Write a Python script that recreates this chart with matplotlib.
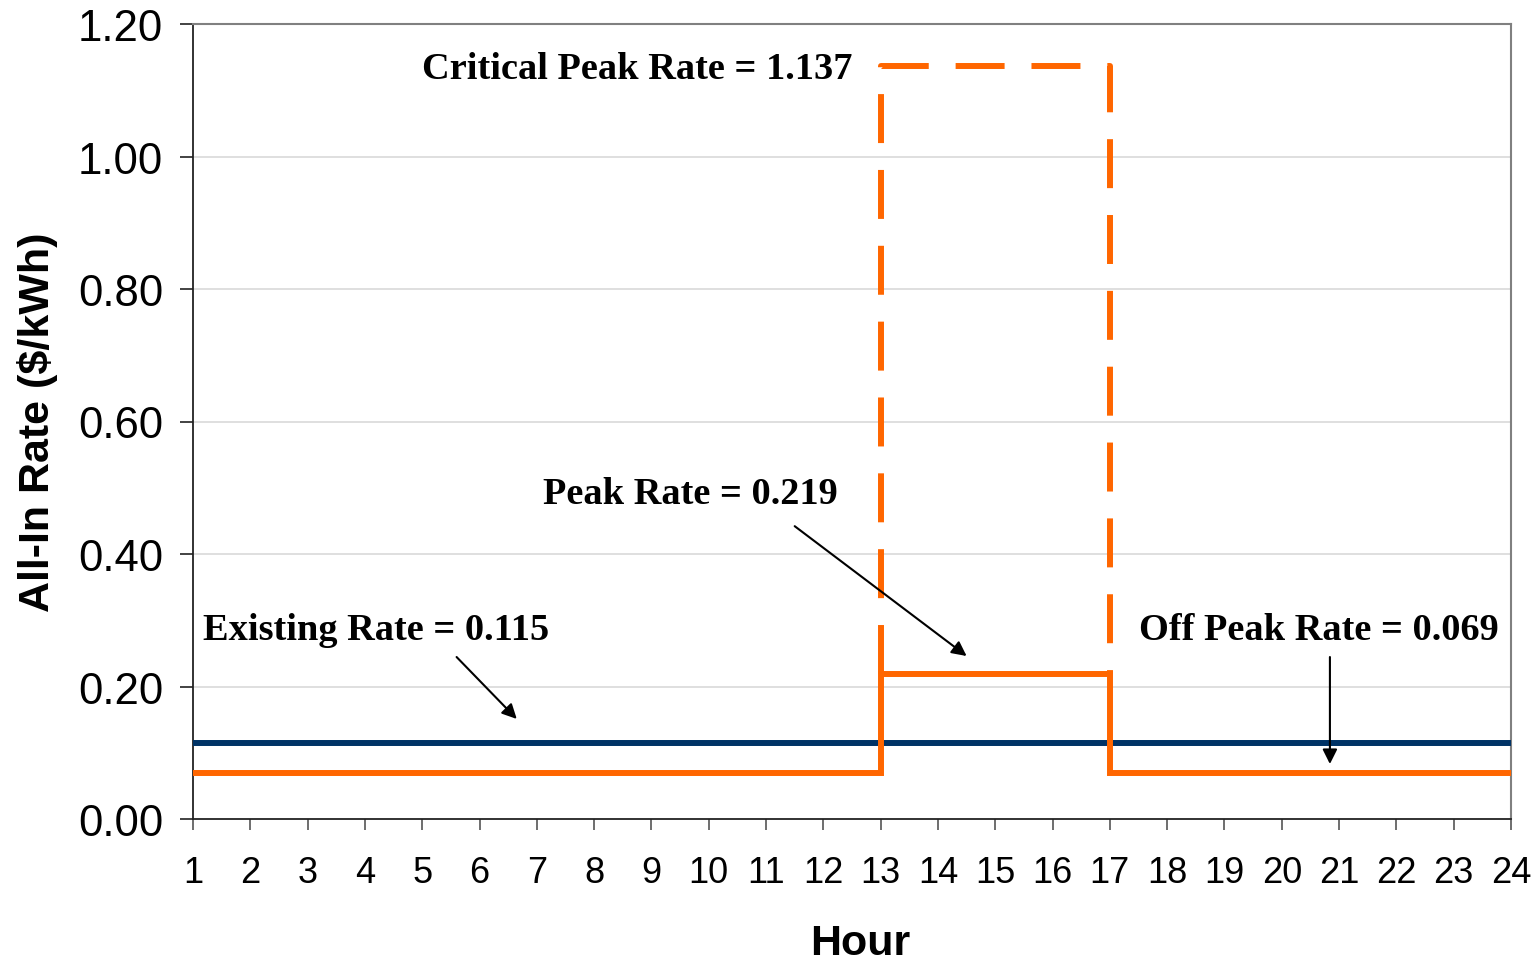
import matplotlib
matplotlib.use("Agg")
import matplotlib.pyplot as plt

# Data
hours = list(range(1, 25))
existing_rate = 0.115
off_peak_rate = 0.069
peak_rate = 0.219
critical_peak_rate = 1.137
peak_start, peak_end = 13, 17

step_x = [1, peak_start, peak_start, peak_end, peak_end, 24]
step_y = [off_peak_rate, off_peak_rate, peak_rate, peak_rate, off_peak_rate, off_peak_rate]
crit_x = [peak_start, peak_start, peak_end, peak_end]
crit_y = [peak_rate, critical_peak_rate, critical_peak_rate, peak_rate]

yticks = [0.0, 0.2, 0.4, 0.6, 0.8, 1.0, 1.2]
ytick_labels = ["0.00", "0.20", "0.40", "0.60", "0.80", "1.00", "1.20"]

annotations = [
    ("Critical Peak Rate = 1.137", (5.0, 1.133), None),
    ("Peak Rate = 0.219", (7.11, 0.492), ((11.5, 0.442), (14.5, 0.246))),
    ("Existing Rate = 0.115", (1.175, 0.286), ((5.6, 0.2445), (6.65, 0.151))),
    ("Off Peak Rate = 0.069", (17.51, 0.286), ((20.84, 0.2445), (20.84, 0.083))),
]

ORANGE = "#FF6600"
NAVY = "#003366"

fig = plt.figure(figsize=(15.37, 9.62), dpi=100)
ax = fig.add_axes([193/1537, 1-820/962, (1511-193)/1537, (820-25)/962])

ax.set_xlim(1, 24)
ax.set_ylim(0, 1.2)

for yv in yticks[1:-1]:
    ax.axhline(yv, color="#D9D9D9", lw=1.2, zorder=0)

ax.plot([1, 24], [existing_rate, existing_rate], color=NAVY, lw=4.3, solid_capstyle="butt", zorder=3)
ax.plot(step_x, step_y, color=ORANGE, lw=4.3, solid_joinstyle="miter", zorder=4)
ax.plot(crit_x, crit_y, color=ORANGE, lw=4.3, dashes=(8.2, 4.5), dash_capstyle="butt", zorder=4)

ax.set_yticks(yticks)
ax.set_yticklabels(ytick_labels, fontsize=31.5, family="Liberation Sans")
ax.set_xticks(hours)
ax.set_xticklabels([str(h) for h in hours], fontsize=26, family="Liberation Sans")

ax.tick_params(axis="y", direction="out", length=9.5, width=1.2, pad=12, color="#222222")
ax.tick_params(axis="x", direction="out", length=8, width=1.2, pad=18, color="#555555")

for s in ["left", "bottom"]:
    ax.spines[s].set_color("#222222")
    ax.spines[s].set_linewidth(1.3)
for s in ["top", "right"]:
    ax.spines[s].set_color("#808080")
    ax.spines[s].set_linewidth(1.5)

ax.set_ylabel("All-In Rate ($/kWh)", fontsize=31, fontweight="bold", family="Liberation Sans", labelpad=14)
ax.set_xlabel("Hour", fontsize=31, fontweight="bold", family="Liberation Sans", labelpad=24)
ax.xaxis.label.set_x(0.506)

for text, (tx, ty), arrow in annotations:
    ax.text(tx, ty, text, fontsize=27.6, fontweight="bold", family="Liberation Serif",
            ha="left", va="center", zorder=6)
    if arrow is not None:
        (x0, y0), (x1, y1) = arrow
        ax.annotate("", xy=(x1, y1), xytext=(x0, y0),
                    arrowprops=dict(arrowstyle="-|>", color="black", lw=1.5,
                                    mutation_scale=22, shrinkA=0, shrinkB=0), zorder=6)

fig.savefig("out.png", dpi=100)
